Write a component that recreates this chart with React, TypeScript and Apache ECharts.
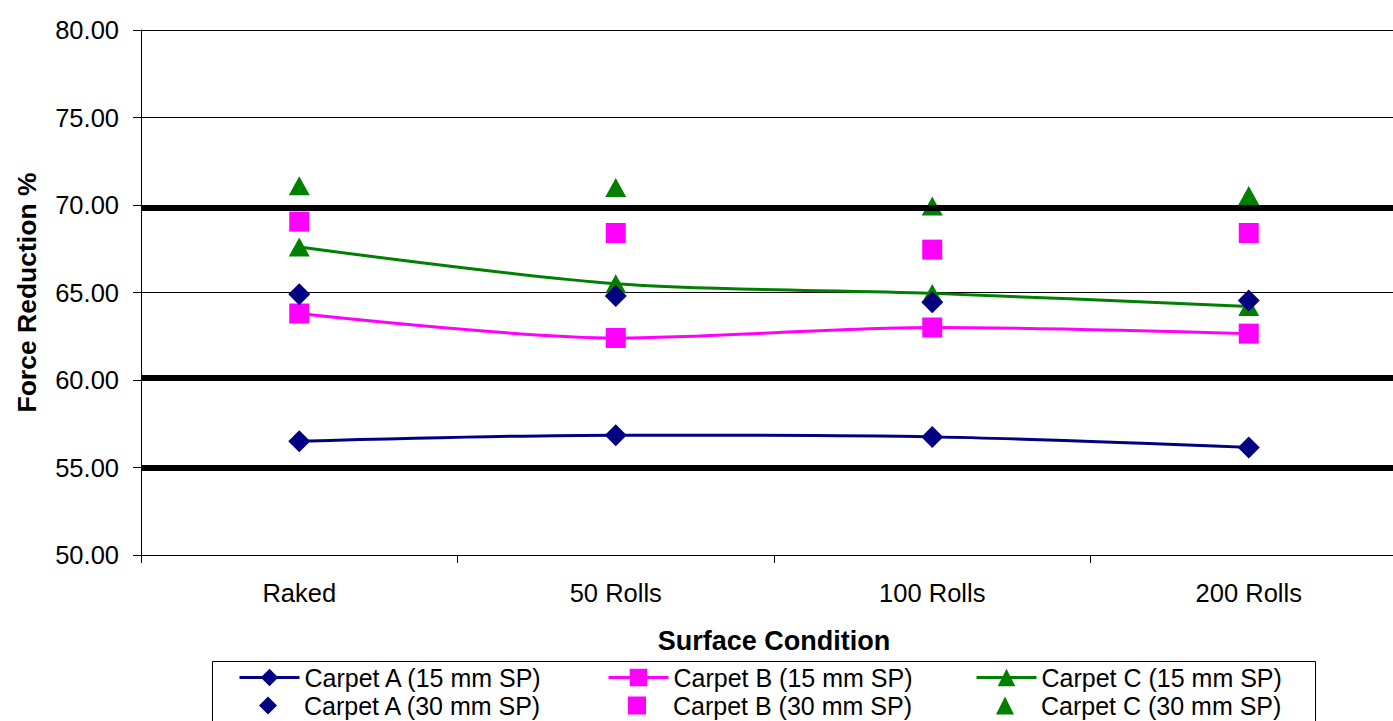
import React, { useEffect, useRef } from "react";
import * as echarts from "echarts";

const categories = ["Raked", "50 Rolls", "100 Rolls", "200 Rolls"];
const carpetA15 = [56.5, 56.85, 56.75, 56.15];
const carpetA30 = [64.9, 64.8, 64.45, 64.55];
const carpetB15 = [63.8, 62.4, 63.0, 62.65];
const carpetB30 = [69.05, 68.4, 67.45, 68.4];
const carpetC15 = [67.6, 65.5, 64.95, 64.2];
const carpetC30 = [71.1, 71.0, 69.95, 70.55];
const referenceLines = [69.87, 60.15, 55.0];

const seriesNames15 = ["Carpet A (15 mm SP)", "Carpet B (15 mm SP)", "Carpet C (15 mm SP)"];
const seriesNames30 = ["Carpet A (30 mm SP)", "Carpet B (30 mm SP)", "Carpet C (30 mm SP)"];

const NAVY = "#000080";
const MAGENTA = "#FF00FF";
const GREEN = "#008000";
const FONT = "'Liberation Sans', Arial, sans-serif";

const legendColumns = [238, 607, 975];

export default function App() {
  const ref = useRef<HTMLDivElement>(null);
  useEffect(() => {
    document.body.style.margin = "0";
    document.body.style.overflow = "hidden";
    if (!ref.current) return;
    const chart = echarts.init(ref.current, null, { renderer: "svg" });
    const lineSeries = (name: string, data: number[], color: string, symbol: string, size: any) => ({
      name,
      type: "line",
      data,
      smooth: 0.3,
      symbol,
      symbolSize: size,
      showSymbol: true,
      lineStyle: { color, width: 3 },
      itemStyle: { color },
      z: 3,
    });
    const scatterSeries = (name: string, data: number[], color: string, symbol: string, size: any) => ({
      name,
      type: "scatter",
      data,
      symbol,
      symbolSize: size,
      itemStyle: { color, opacity: 1 },
      z: 3,
    });
    const legendText = { fontFamily: FONT, fontSize: 25, lineHeight: 25, color: "#000" };
    const legends: any[] = [];
    seriesNames15.forEach((n, i) => {
      legends.push({
        data: [n],
        left: legendColumns[i],
        top: 665,
        padding: 0,
        itemWidth: 60,
        itemHeight: 22,
        lineStyle: { width: 3 },
        textStyle: legendText,
        selectedMode: false,
      });
    });
    seriesNames30.forEach((n, i) => {
      legends.push({
        data: [n],
        left: legendColumns[i] + 21,
        top: 693,
        padding: 0,
        itemWidth: 18,
        itemHeight: 18,
        textStyle: { ...legendText, padding: [0, 0, 0, 22] },
        selectedMode: false,
      });
    });
    const option: any = {
      animation: false,
      backgroundColor: "#fff",
      textStyle: { fontFamily: FONT },
      grid: { left: 141, top: 30, right: 0, bottom: 166, containLabel: false },
      xAxis: {
        type: "category",
        data: categories,
        boundaryGap: true,
        name: "Surface Condition",
        nameLocation: "middle",
        nameGap: 72,
        nameTextStyle: { fontFamily: FONT, fontSize: 27, fontWeight: "bold", color: "#000" },
        axisLine: { lineStyle: { color: "#000", width: 1 } },
        axisTick: { show: true, length: 8, lineStyle: { color: "#000" } },
        axisLabel: { fontFamily: FONT, fontSize: 25.5, color: "#000", margin: 25 },
        splitLine: { show: false },
      },
      yAxis: {
        type: "value",
        min: 50,
        max: 80,
        interval: 5,
        name: "Force Reduction %",
        nameLocation: "middle",
        nameGap: 101,
        nameTextStyle: { fontFamily: FONT, fontSize: 26.5, fontWeight: "bold", color: "#000" },
        axisLine: { show: true, lineStyle: { color: "#000", width: 1 } },
        axisTick: { show: true, length: 8, lineStyle: { color: "#000" } },
        axisLabel: {
          fontFamily: FONT,
          fontSize: 25.5,
          color: "#000",
          margin: 22,
          formatter: (v: number) => v.toFixed(2),
        },
        splitLine: { show: true, lineStyle: { color: "#000", width: 1 } },
      },
      legend: legends,
      graphic: [
        {
          type: "rect",
          shape: { x: 212.5, y: 661.5, width: 1103, height: 80 },
          style: { fill: "none", stroke: "#000", lineWidth: 1 },
          z: 0,
        },
      ],
      series: [
        lineSeries(seriesNames15[0], carpetA15, NAVY, "diamond", 22),
        lineSeries(seriesNames15[1], carpetB15, MAGENTA, "rect", 20),
        lineSeries(seriesNames15[2], carpetC15, GREEN, "triangle", [21, 19]),
        scatterSeries(seriesNames30[0], carpetA30, NAVY, "diamond", 22),
        scatterSeries(seriesNames30[1], carpetB30, MAGENTA, "rect", 20),
        scatterSeries(seriesNames30[2], carpetC30, GREEN, "triangle", [21, 19]),
        {
          name: "reference",
          type: "line",
          data: [],
          markLine: {
            silent: true,
            symbol: "none",
            label: { show: false },
            lineStyle: { color: "#000", width: 6, type: "solid" },
            data: referenceLines.map((v) => ({ yAxis: v })),
            z: 5,
          },
        },
      ],
    };
    chart.setOption(option);
    return () => chart.dispose();
  }, []);
  return (
    <div style={{ width: 1393, height: 721, overflow: "hidden", position: "relative" }}>
      <div ref={ref} style={{ width: 1407, height: 721 }} />
    </div>
  );
}
